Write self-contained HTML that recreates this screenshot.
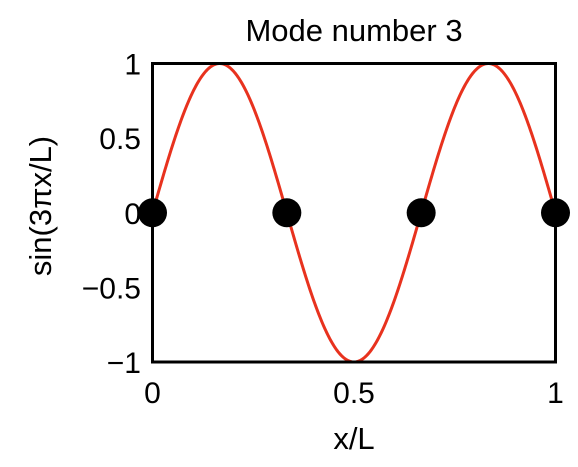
<!DOCTYPE html>
<html><head><meta charset="utf-8"><style>
body{margin:0;background:#fff}
text{font-family:"Liberation Sans",Arial,sans-serif;fill:#000}
</style></head><body>
<svg width="578" height="462">
<text x="354" y="41" font-size="31" text-anchor="middle">Mode number 3</text>
<g id="ticks"></g>
<path id="curve" fill="none" stroke="#e8321e" stroke-width="3"/>
<rect x="152.5" y="63.5" width="403" height="298.5" fill="none" stroke="#000" stroke-width="3"/>
<g id="nodes"></g>
<text x="354" y="449" font-size="31" text-anchor="middle">x/L</text>
<text transform="translate(51,206) rotate(-90)" font-size="31" text-anchor="middle">sin(3πx/L)</text>
</svg>
<script>
const xTicks=[0,0.5,1];
const xTickLabels=["0","0.5","1"];
const yTicks=[1,0.5,0,-0.5,-1];
const yTickLabels=["1","0.5","0","−0.5","−1"];
const modeNumber=3;
const nodeX=[0,1/3,2/3,1];
const nodeY=[0,0,0,0];
const NS="http://www.w3.org/2000/svg";
const L=152.5,R=555.5,T=63.5,B=362;
const sx=v=>L+v*(R-L), sy=v=>T+(1-v)/2*(B-T);
const tg=document.getElementById('ticks');
xTicks.forEach((v,i)=>{const t=document.createElementNS(NS,'text');
t.setAttribute('x',sx(v));t.setAttribute('y',403);t.setAttribute('font-size','30');t.setAttribute('text-anchor','middle');
t.textContent=xTickLabels[i];


tg.appendChild(t);});
yTicks.forEach((v,i)=>{const t=document.createElementNS(NS,'text');
t.setAttribute('x',141);t.setAttribute('y',sy(v)+11);t.setAttribute('font-size','30');t.setAttribute('text-anchor','end');
t.textContent=yTickLabels[i];


tg.appendChild(t);});
let d='';for(let i=0;i<=400;i++){const x=i/400;d+=(i?'L':'M')+sx(x).toFixed(2)+','+sy(Math.sin(modeNumber*Math.PI*x)).toFixed(2);}
document.getElementById('curve').setAttribute('d',d);
const ng=document.getElementById('nodes');
nodeX.forEach((v,i)=>{const c=document.createElementNS(NS,'circle');
c.setAttribute('cx',sx(v));c.setAttribute('cy',sy(nodeY[i]));c.setAttribute('r',14.5);c.setAttribute('fill','#000');


ng.appendChild(c);});
</script>
</body></html>
